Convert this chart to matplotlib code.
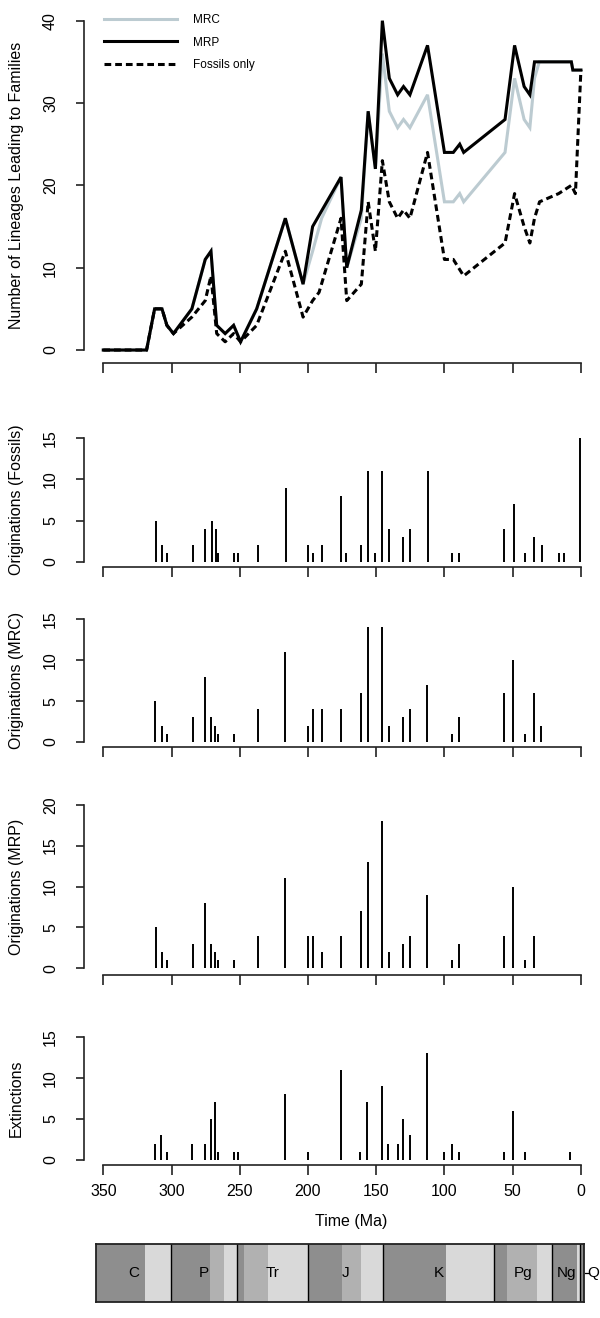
import matplotlib
matplotlib.use("Agg")
import matplotlib.pyplot as plt

plt.rcParams['font.family'] = ['Liberation Sans', 'DejaVu Sans']

# ---------------- data ----------------
# Lineages-through-time (Ma, count)
mrp_time = [350, 318.3, 312.4, 307, 303.4, 298.6, 285.1, 275.3, 271.1, 266.9, 260.7, 254.5, 249.4,
            237.6, 216.6, 203.6, 196.6, 175.8, 171.6, 160.9, 155.9, 150.6, 145.5, 140.4, 134.3,
            130.0, 125.3, 112.4, 100.0, 93.5, 88.8, 85.9, 55.6, 48.6, 41.6, 37.4, 34.0, 7.0, 5.9, 0]
mrp_n = [0, 0, 5, 5, 3, 2, 5, 11, 12, 3, 2, 3, 1,
         5, 16, 8, 15, 21, 10, 17, 29, 22, 40, 33, 31,
         32, 31, 37, 24, 24, 25, 24, 28, 37, 32, 31, 35, 35, 34, 34]

mrc_time = [350, 318.3, 312.4, 307, 303.4, 298.6, 285.1, 275.3, 271.1, 266.9, 260.7, 254.5, 249.4,
            237.6, 216.6, 203.6, 196.6, 190.0, 175.8, 171.6, 160.9, 155.9, 150.6, 145.5, 140.4,
            134.3, 130.0, 125.3, 112.4, 100.0, 93.5, 88.8, 85.9, 55.6, 48.6, 41.6, 37.4, 34.0,
            30.5, 7.0, 5.9, 0]
mrc_n = [0, 0, 5, 5, 3, 2, 5, 11, 12, 3, 2, 3, 1,
         5, 16, 8, 12, 16, 21, 10, 16, 29, 22, 36, 29,
         27, 28, 27, 31, 18, 18, 19, 18, 24, 33, 28, 27, 33,
         35, 35, 34, 34]

fossil_time = [350, 318.3, 312.4, 307, 303.4, 298.6, 285.1, 275.3, 271.1, 266.9, 260.7, 254.5,
               249.4, 237.6, 216.6, 203.6, 196.6, 191.9, 175.8, 171.6, 160.9, 155.9, 150.6, 145.5,
               140.4, 134.3, 130.0, 125.3, 112.4, 100.0, 93.5, 85.9, 55.6, 48.6, 41.6, 37.4, 34.0,
               30.3, 16.3, 7.0, 4.0, 0]
fossil_n = [0, 0, 5, 5, 3, 2, 4, 6, 9, 2, 1, 2,
            1, 3, 12, 4, 6, 7, 16, 6, 8, 18, 12, 23,
            18, 16, 17, 16, 24, 11, 11, 9, 13, 19, 15, 13, 16,
            18, 19, 20, 19, 34]

# Originations (Fossils)
orig_fossil_time = [311.2, 307, 303.4, 284.3, 275.3, 270.5, 267.7, 265.7, 253.9, 251.1, 236.8,
                    216.3, 199.7, 196.6, 189.6, 175.8, 171.9, 161.5, 155.9, 151.1, 145.5, 140.4,
                    130.3, 125.3, 112.4, 94.1, 89.0, 56.2, 49.2, 40.7, 34.3, 28.6, 16.3, 12.1, 0.3]
orig_fossil_n = [5, 2, 1, 2, 4, 5, 4, 1, 1, 1, 2,
                 9, 2, 1, 2, 8, 1, 2, 11, 1, 11, 4,
                 3, 4, 11, 1, 1, 4, 7, 1, 3, 2, 1, 1, 15]

# Originations (MRC)
orig_mrc_time = [312.1, 307.3, 303.6, 284.5, 275.6, 271.1, 268.0, 266.0, 253.9, 236.8, 216.6,
                 200.0, 196.6, 189.9, 176.1, 161.5, 155.9, 145.8, 140.4, 130.6, 125.6, 112.6,
                 94.1, 89.0, 56.2, 49.4, 41.0, 34.5, 28.9]
orig_mrc_n = [5, 2, 1, 3, 8, 3, 2, 1, 1, 4, 11,
              2, 4, 4, 4, 6, 14, 14, 2, 3, 4, 7,
              1, 3, 6, 10, 1, 6, 2]

# Originations (MRP)
orig_mrp_time = [311.5, 307.0, 303.4, 284.3, 275.3, 270.8, 268.0, 265.7, 253.9, 236.8, 216.6,
                 200.0, 196.6, 189.9, 176.1, 161.5, 156.2, 145.8, 140.7, 130.6, 125.6, 112.6,
                 94.4, 89.3, 56.5, 49.4, 41.3, 34.5]
orig_mrp_n = [5, 2, 1, 3, 8, 3, 2, 1, 1, 4, 11,
              4, 4, 2, 4, 7, 13, 18, 2, 3, 4, 9,
              1, 3, 4, 10, 1, 4]

# Extinctions
ext_time = [312.1, 307.6, 303.6, 284.8, 275.8, 271.1, 268.5, 266.3, 254.2, 251.4, 216.9, 200.3,
            176.1, 161.8, 156.5, 146.1, 141.0, 134.3, 130.6, 125.6, 112.6, 100.3, 94.4, 89.3,
            56.5, 49.4, 41.3, 8.1]
ext_n = [2, 3, 1, 2, 2, 5, 7, 1, 1, 1, 8, 1,
         11, 1, 7, 9, 2, 2, 5, 3, 13, 1, 2, 1,
         1, 6, 1, 1]

# Geological time scale (GTS2004)
period_names = ['C', 'P', 'Tr', 'J', 'K', 'Pg', 'Ng', 'Q']
period_start = [359.2, 299.0, 251.0, 199.6, 145.5, 65.5, 23.03, 2.588]
period_end = [299.0, 251.0, 199.6, 145.5, 65.5, 23.03, 2.588, 0.0]
epoch_start = [359.2, 318.1, 299.0, 270.6, 260.4, 251.0, 245.9, 228.7, 199.6, 175.6, 161.2,
               145.5, 99.6, 65.5, 55.8, 33.9, 23.03, 5.332, 2.588, 0.0117]
epoch_end = [318.1, 299.0, 270.6, 260.4, 251.0, 245.9, 228.7, 199.6, 175.6, 161.2, 145.5,
             99.6, 65.5, 55.8, 33.9, 23.03, 5.332, 2.588, 0.0117, 0.0]
epoch_shade = ['dark', 'light', 'dark', 'mid', 'light', 'dark', 'mid', 'light', 'dark', 'mid',
               'light', 'dark', 'light', 'dark', 'mid', 'light', 'dark', 'light', 'dark', 'light']

x_ticks = [350, 300, 250, 200, 150, 100, 50, 0]

# ---------------- figure ----------------
W, H = 600, 1318
fig = plt.figure(figsize=(W / 100, H / 100), dpi=100)
AXC = '#222222'
FS = 11.5


def add_ax(x0, y0, x1, y1):
    return fig.add_axes([x0 / W, 1 - y1 / H, (x1 - x0) / W, (y1 - y0) / H])


def style(ax, yticks, ylim, ylabel, xlabels=False):
    ax.set_xlim(364, -14)
    ax.set_ylim(*ylim)
    for s in ['top', 'right']:
        ax.spines[s].set_visible(False)
    for s in ['left', 'bottom']:
        ax.spines[s].set_color(AXC)
        ax.spines[s].set_linewidth(1.2)
    ax.spines['left'].set_bounds(yticks[0], yticks[-1])
    ax.spines['bottom'].set_bounds(x_ticks[0], x_ticks[-1])
    ax.set_xticks(x_ticks)
    ax.set_yticks(yticks)
    ax.tick_params(axis='x', direction='out', length=7.2, width=1.2, color=AXC,
                   labelsize=FS, pad=6.5, labelbottom=xlabels)
    ax.tick_params(axis='y', direction='out', length=5.8, width=1.2, color=AXC,
                   labelsize=FS, pad=13)
    ax.set_yticklabels([str(v) for v in yticks], rotation=90, va='center')
    ax.set_ylabel(ylabel, fontsize=FS)
    ax.yaxis.set_label_coords((24 - 84.2) / 515.8, 0.5)
    ax.patch.set_alpha(0)


# Panel 1: lineages
ax1 = add_ax(84.2, 7.5, 600, 363.2)
l_mrc, = ax1.plot(mrc_time, mrc_n, color='#bccbd1', lw=2.2, label='MRC', solid_joinstyle='miter')
l_mrp, = ax1.plot(mrp_time, mrp_n, color='black', lw=2.2, label='MRP', solid_joinstyle='miter')
l_fos, = ax1.plot(fossil_time, fossil_n, color='black', lw=2.2, linestyle=(0, (2.2, 1.3)),
                  label='Fossils only')
style(ax1, [0, 10, 20, 30, 40], (-1.6, 41.6), 'Number of Lineages Leading to Families')
ax1.legend(handles=[l_mrc, l_mrp, l_fos], loc='upper left',
           bbox_to_anchor=(104 / W, 1 - 14 / H), bbox_transform=fig.transFigure,
           frameon=False, fontsize=8.5, handlelength=6.2, handletextpad=1.3,
           borderpad=0, borderaxespad=0, labelspacing=0.9)

# Bar panels
panels = [
    ((433.4, 566.6), orig_fossil_time, orig_fossil_n, [0, 5, 10, 15], (-0.6, 15.6), 'Originations (Fossils)'),
    ((614.4, 746.9), orig_mrc_time, orig_mrc_n, [0, 5, 10, 15], (-0.6, 15.6), 'Originations (MRC)'),
    ((798.2, 974.8), orig_mrp_time, orig_mrp_n, [0, 5, 10, 15, 20], (-0.8, 20.8), 'Originations (MRP)'),
    ((1031.8, 1164.9), ext_time, ext_n, [0, 5, 10, 15], (-0.6, 15.6), 'Extinctions'),
]
for i, ((y0, y1), t, n, yt, yl, lab) in enumerate(panels):
    ax = add_ax(84.2, y0, 600, y1)
    ax.vlines(t, 0, n, color='black', lw=1.4)
    last = i == len(panels) - 1
    style(ax, yt, yl, lab, xlabels=last)
    if last:
        ax.set_xlabel('Time (Ma)', fontsize=FS)
        ax.xaxis.set_label_coords((351.5 - 84.2) / 515.8, (1164.9 - 1214) / (1164.9 - 1031.8))

# Timescale
shade = {'dark': '#8e8e8e', 'mid': '#b1b1b1', 'light': '#d9d9d9'}
axg = add_ax(96, 1244.3, 584, 1302.3)
axg.set_xlim(353.4, 0)
axg.set_ylim(0, 1)
for s, e, c in zip(epoch_start, epoch_end, epoch_shade):
    axg.axvspan(e, s, color=shade[c], lw=0)
for s in period_start[1:]:
    axg.axvline(s, color='black', lw=1.0)
for name, s, e in zip(period_names, period_start, period_end):
    if name == 'Q':
        axg.plot([-0.6, -3.6], [0.5, 0.5], color='black', lw=0.9, clip_on=False)
        axg.text(-7.0, 0.5, name, ha='center', va='center', fontsize=11)
    else:
        axg.text((min(s, 353.4) + e) / 2, 0.5, name, ha='center', va='center', fontsize=11)
axg.set_xticks([])
axg.set_yticks([])
for s in axg.spines.values():
    s.set_linewidth(1.3)
    s.set_color('#222222')

fig.savefig('out.png', dpi=100)
